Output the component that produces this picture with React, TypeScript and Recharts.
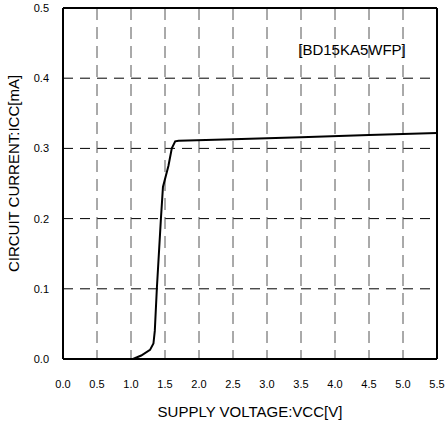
import React from 'react'
import {
  LineChart,
  Line,
  XAxis,
  YAxis,
  CartesianGrid,
  ReferenceLine,
  ReferenceDot
} from 'recharts'

// 電源電圧 [V]
const vcc = [0.9, 1.03, 1.15, 1.28, 1.33, 1.35, 1.38, 1.44, 1.47, 1.55, 1.6, 1.65, 1.7, 2.5, 3.5, 4.5, 5.5]
// 回路電流 [mA]
const icc = [0, 0, 0.005, 0.013, 0.022, 0.04, 0.1, 0.2, 0.245, 0.275, 0.3, 0.31, 0.311, 0.313, 0.316, 0.319, 0.322]

const xTicks = [0, 0.5, 1, 1.5, 2, 2.5, 3, 3.5, 4, 4.5, 5, 5.5]
const yTicks = [0, 0.1, 0.2, 0.3, 0.4, 0.5]
const partName = '[BD15KA5WFP]'
const xTitle = 'SUPPLY VOLTAGE:VCC[V]'
const yTitle = 'CIRCUIT CURRENT:ICC[mA]'

const FONT = '"Liberation Sans", Arial, sans-serif'

export default function App() {
  const data = vcc.map((v, i) => ({ vcc: v, icc: icc[i] }))

  return (
    <div style={{ position: 'absolute', left: 0, top: 0, fontFamily: FONT }}>
      <LineChart
        width={448}
        height={426}
        data={data}
        margin={{ top: 8, right: 11, bottom: 27, left: 0 }}
      >
        {/* 横線は黒、縦線はグレーの破線 */}
        <CartesianGrid vertical={false} stroke="#000" strokeDasharray="10 7" strokeWidth={1} />
        <CartesianGrid horizontal={false} stroke="#555" strokeDasharray="12 7" strokeWidth={1} />
        <XAxis
          dataKey="vcc"
          type="number"
          domain={[0, 5.5]}
          ticks={xTicks}
          tickFormatter={(v: number) => v.toFixed(1)}
          tick={{ fill: '#000', fontSize: 11, fontFamily: FONT }}
          tickLine={false}
          tickSize={0}
          tickMargin={21}
          axisLine={{ stroke: '#000', strokeWidth: 2 }}
          height={40}
          label={{
            content: ({ viewBox }: any) => (
              <text
                x={viewBox.x + viewBox.width / 2}
                y={viewBox.y + 58}
                textAnchor="middle"
                fill="#000"
                fontSize={15}
                fontFamily={FONT}
              >
                {xTitle}
              </text>
            )
          }}
        />
        <YAxis
          type="number"
          domain={[0, 0.5]}
          ticks={yTicks}
          tickFormatter={(v: number) => v.toFixed(1)}
          tick={{ fill: '#000', fontSize: 11, fontFamily: FONT }}
          tickLine={false}
          tickSize={0}
          tickMargin={14}
          axisLine={{ stroke: '#000', strokeWidth: 2 }}
          width={63}
          label={{
            content: ({ viewBox }: any) => {
              const cy = viewBox.y + viewBox.height / 2 - 10
              return (
                <text
                  x={19}
                  y={cy}
                  transform={`rotate(-90 19 ${cy})`}
                  textAnchor="middle"
                  fill="#000"
                  fontSize={15}
                  fontFamily={FONT}
                >
                  {yTitle}
                </text>
              )
            }
          }}
        />
        <ReferenceLine y={0.5} stroke="#000" strokeWidth={2} />
        <ReferenceLine x={5.5} stroke="#000" strokeWidth={2} />
        <ReferenceDot
          x={4.25}
          y={0.44}
          r={0}
          fill="none"
          stroke="none"
          label={{ value: partName, fill: '#000', fontSize: 15, fontFamily: FONT }}
        />
        <Line
          dataKey="icc"
          type="linear"
          stroke="#000"
          strokeWidth={2}
          dot={false}
          isAnimationActive={false}
        />
      </LineChart>
    </div>
  )
}
